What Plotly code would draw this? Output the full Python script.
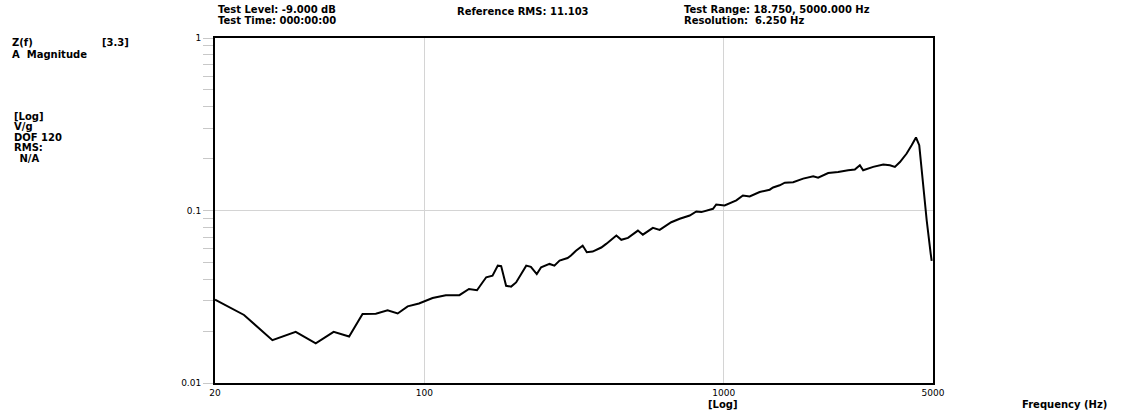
import plotly.graph_objects as go

freq_hz = [20, 25, 31.1, 37.2, 43.4, 49.8, 56.1, 62.2, 68.9, 75.4, 81.5, 88, 96,
           106.6, 118, 131, 141, 150, 156, 161, 169, 176, 180.6, 187.6, 195, 202.6,
           219, 227, 237.5, 245.6, 262, 272, 283, 301, 309, 321, 338, 349, 365, 390,
           405, 438, 455, 479, 517, 537, 580, 611, 668, 713, 770, 810, 842, 921, 944,
           1007, 1102, 1159, 1221, 1318, 1424, 1462, 1538, 1600, 1706, 1842, 1990,
           2067, 2233, 2411, 2604, 2741, 2849, 2922, 3157, 3410, 3590, 3730, 3878,
           4083, 4243, 4387, 4498, 4642, 4764, 4913, 4950]
magnitude = [0.0304, 0.0248, 0.0177, 0.0198, 0.0170, 0.0198, 0.0186, 0.0251, 0.0252,
             0.0264, 0.0253, 0.0278, 0.0289, 0.0311, 0.0323, 0.0323, 0.0351, 0.0345,
             0.0380, 0.0410, 0.0419, 0.0479, 0.0476, 0.0366, 0.0362, 0.0383, 0.0479,
             0.0471, 0.0428, 0.0469, 0.0490, 0.0479, 0.0512, 0.0530, 0.0548, 0.0585,
             0.0626, 0.0573, 0.0578, 0.0610, 0.0640, 0.0716, 0.0676, 0.0694, 0.0765,
             0.0724, 0.0793, 0.0772, 0.0855, 0.0896, 0.0935, 0.0987, 0.0979, 0.1023,
             0.1084, 0.1070, 0.1144, 0.1222, 0.1206, 0.1280, 0.1320, 0.1360, 0.1400,
             0.1450, 0.1460, 0.1530, 0.1580, 0.1550, 0.1650, 0.1670, 0.1710, 0.1730,
             0.1830, 0.1710, 0.1790, 0.1850, 0.1830, 0.1790, 0.1910, 0.2140, 0.2390,
             0.2650, 0.2390, 0.1310, 0.0875, 0.0560, 0.0510]

x_tick_vals = [20, 100, 1000, 5000]
x_tick_text = ["20", "100", "1000", "5000"]
y_tick_vals = [0.01, 0.1, 1]
y_tick_text = ["0.01", "0.1", "1"]
y_minor_vals = [m * d for d in (0.01, 0.1) for m in range(2, 10)]

left_labels = [("Z(f)", 10, 43), ("[3.3]", 100, 42), ("A  Magnitude", 10, 54),
               ("[Log]", 12, 116), ("V/g", 12, 126), ("DOF 120", 12, 137),
               ("RMS:", 12, 147), (" N/A", 14, 158)]
top_labels = [("Test Level: -9.000 dB", 216, 10), ("Test Time: 000:00:00", 216, 21),
              ("Reference RMS: 11.103", 455, 11),
              ("Test Range: 18.750, 5000.000 Hz", 682, 10), ("Resolution:  6.250 Hz", 682, 21)]
bottom_labels = [("[Log]", 706, 404), ("Frequency (Hz)", 1020, 404)]

FONT = "DejaVu Sans"
FIG_W, FIG_H = 1136, 410
L, T, R, B = 215, 38, FIG_W - 933, FIG_H - 383

fig = go.Figure()
fig.add_trace(go.Scatter(x=freq_hz, y=magnitude, mode="lines",
                         line=dict(color="black", width=2), showlegend=False,
                         hoverinfo="skip"))

fig.update_layout(
    width=FIG_W, height=FIG_H,
    margin=dict(l=L, r=R, t=T, b=B, autoexpand=False),
    paper_bgcolor="white", plot_bgcolor="white",
    font=dict(family=FONT, size=9, color="black"),
    xaxis=dict(type="log", range=[1.30103, 3.69897], automargin=False,
               tickmode="array", tickvals=x_tick_vals, ticktext=x_tick_text,
               showgrid=True, gridcolor="#d4d4d4", gridwidth=1,
               showline=True, linecolor="black", linewidth=2, mirror=True,
               ticks="", zeroline=False, tickfont=dict(size=9, family=FONT)),
    yaxis=dict(type="log", range=[-2, 0], automargin=False,
               tickmode="array", tickvals=y_tick_vals, ticktext=y_tick_text,
               showgrid=True, gridcolor="#d4d4d4", gridwidth=1,
               showline=True, linecolor="black", linewidth=2, mirror=True,
               ticks="outside", ticklen=10, tickcolor="#c8c8c8", tickwidth=1,
               zeroline=False, tickfont=dict(size=9, family=FONT),
               minor=dict(tickmode="array", tickvals=y_minor_vals,
                          ticks="outside", ticklen=10, tickcolor="#c8c8c8",
                          tickwidth=1, showgrid=False)),
)

plot_w = FIG_W - L - R
plot_h = FIG_H - T - B
for txt, px, py in left_labels + top_labels + bottom_labels:
    fy = FIG_H - py
    fig.add_annotation(text="<b>" + txt + "</b>",
                       x=(px - L) / plot_w, y=(fy - B) / plot_h,
                       xref="paper", yref="paper",
                       showarrow=False, xanchor="left", yanchor="middle",
                       font=dict(family=FONT, size=10, color="black"))

fig.write_html("out.html", config={"displayModeBar": False},
               post_script="document.body.style.margin='0';document.body.style.overflow='hidden';")
